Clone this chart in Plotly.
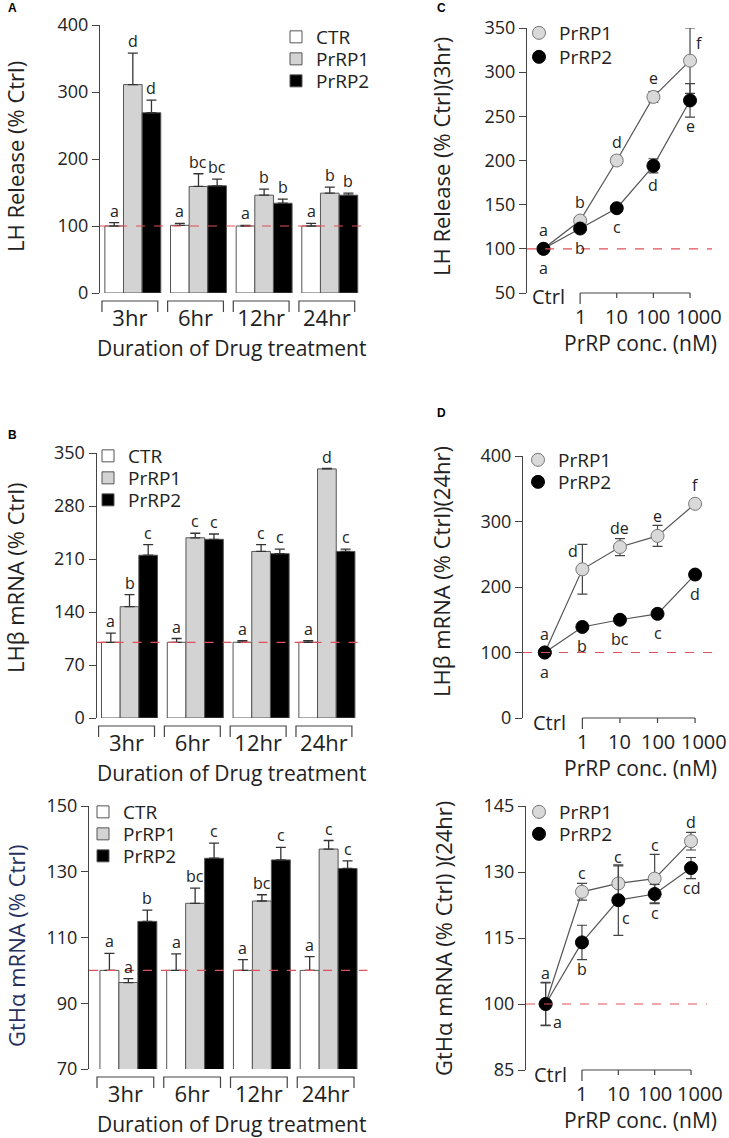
import numpy as np
import plotly.graph_objects as go

W, H = 729, 1138
FONT = "Open Sans"
INK = "#222222"

# ---- data: bar panels (A, B, bottom-left) ----
durations = ["3hr", "6hr", "12hr", "24hr"]
bar_names = ["CTR", "PrRP1", "PrRP2"]

lh_ctr = [100, 101, 100, 100]
lh_ctr_err = [5, 3, 1, 4]
lh_p1 = [311, 159, 146, 149]
lh_p1_err = [47, 19, 9, 9]
lh_p2 = [269, 160, 134, 146]
lh_p2_err = [19, 10, 6, 3]
lh_ctr_sig = ["a", "a", "a", "a"]
lh_p1_sig = ["d", "bc", "b", "b"]
lh_p2_sig = ["d", "bc", "b", "b"]

lhb_ctr = [100, 100, 100, 100]
lhb_ctr_err = [12, 5, 2, 2]
lhb_p1 = [147, 238, 220, 329]
lhb_p1_err = [16, 6, 9, 0.5]
lhb_p2 = [215, 236, 217, 220]
lhb_p2_err = [14, 7, 6, 3]
lhb_ctr_sig = ["a", "a", "a", "a"]
lhb_p1_sig = ["b", "c", "c", "d"]
lhb_p2_sig = ["c", "c", "c", "c"]

gth_ctr = [100, 100, 100, 100]
gth_ctr_err = [5.2, 5, 3.3, 4.2]
gth_p1 = [96.3, 120.4, 121.1, 136.9]
gth_p1_err = [1.2, 4.6, 1.9, 2.6]
gth_p2 = [114.9, 134.1, 133.6, 131.0]
gth_p2_err = [3.4, 4.6, 3.8, 2.3]
gth_ctr_sig = ["a", "a", "a", "a"]
gth_p1_sig = ["a", "bc", "bc", "c"]
gth_p2_sig = ["b", "c", "c", "c"]

# ---- data: dose-response panels (C, D, bottom-right) ----
conc_labels = ["Ctrl", "1", "10", "100", "1000"]
conc_nm = [0, 1, 10, 100, 1000]

c_p1 = [100, 132, 200, 272, 313]
c_p1_err = [2, 4, 5, 6, 37]
c_p2 = [100, 123, 146, 194, 268]
c_p2_err = [2, 3, 4, 8, 19]
c_p1_sig = ["a", "b", "d", "e", "f"]
c_p2_sig = ["a", "b", "c", "d", "e"]

d_p1 = [100, 227, 261, 278, 327]
d_p1_err = [3, 38, 13, 16, 2]
d_p2 = [100, 139, 150, 159, 219]
d_p2_err = [2, 3, 3, 3, 3]
d_p1_sig = ["a", "d", "de", "e", "f"]
d_p2_sig = ["a", "b", "bc", "c", "d"]

f_p1 = [100, 125.5, 127.4, 128.5, 137]
f_p1_err = [4.9, 1.9, 4, 5.5, 2]
f_p2 = [100, 114, 123.6, 125, 130.9]
f_p2_err = [4.8, 3.9, 8, 2.2, 2.4]
f_p1_sig = ["a", "c", "c", "c", "d"]
f_p2_sig = ["a", "b", "c", "c", "cd"]

# ---- layout of the six panels (pixel boxes) ----
panels = {
    "A": dict(n="", x=(100, 362.6), y=(25, 293), xr=(-0.5, 3.5), yr=(0, 400), dt=100),
    "C": dict(n="2", x=(527, 712), y=(28, 293), xr=(-1.45, 3.6), yr=(50, 350), dt=50),
    "B": dict(n="3", x=(96.6, 359.8), y=(453, 718), xr=(-0.5, 3.5), yr=(0, 350), dt=70),
    "D": dict(n="4", x=(523, 712), y=(456, 718), xr=(-1.58, 3.45), yr=(0, 400), dt=100),
    "E": dict(n="5", x=(89, 362), y=(806, 1069), xr=(-0.59, 3.5), yr=(70, 150), dt=20),
    "F": dict(n="6", x=(526, 707), y=(806, 1070), xr=(-1.54, 3.44), yr=(85, 145), dt=15),
}


def pyp(p):
    return 1 - p / H


def pxp(p):
    return p / W


fig = go.Figure()
shapes = []
annos = []
legends = {}
leg_count = [0]

BW = 0.284  # bar width in category units
BR0, BR1 = -0.47, 0.38  # bracket ends relative to group centre
bar_fill = ["white", "#d3d3d3", "black"]


def text(x, y, s, size, color=INK, xref="paper", yref="paper", **kw):
    a = dict(x=x, y=y, xref=xref, yref=yref, text=s, showarrow=False,
             xanchor="center", yanchor="middle", font=dict(size=size, family=FONT, color=color))
    a.update(kw)
    annos.append(a)


def new_legend(text_x, row_y):
    # one legend per row so the rows sit where the reference has them
    leg_count[0] += 1
    key = "legend" if leg_count[0] == 1 else f"legend{leg_count[0]}"
    legends[key] = dict(x=pxp(text_x - 40), y=pyp(row_y), xanchor="left", yanchor="middle",
                        bgcolor="rgba(0,0,0,0)", font=dict(size=19, family=FONT, color=INK))
    return key


def ax_x(p, tv, tt, size, standoff):
    n = p["n"]
    fig.update_layout({
        "xaxis" + n: dict(domain=[pxp(p["x"][0]), pxp(p["x"][1])], anchor="y" + n, range=list(p["xr"]),
                          showline=False, zeroline=False, showgrid=False, ticks="", automargin=False,
                          tickvals=tv, ticktext=tt, ticklabelstandoff=standoff, tickangle=0,
                          showticklabels=tv is not None,
                          tickfont=dict(size=size, family=FONT, color=INK)),
        "yaxis" + n: dict(domain=[pyp(p["y"][1]), pyp(p["y"][0])], anchor="x" + n, range=list(p["yr"]),
                          showline=True, linecolor="#444444", linewidth=1.2, zeroline=False, showgrid=False,
                          ticks="outside", ticklen=7, tickcolor="#444444", tickwidth=1.2, automargin=False,
                          tick0=p["yr"][0], dtick=p["dt"],
                          tickfont=dict(size=18, family=FONT, color=INK)),
    })


def bar_panel(key, series, leg_x, leg_rows, ytitle, ytitle_pos, ytitle_color=INK):
    p = panels[key]
    n = p["n"]
    xs0 = np.arange(len(durations))
    for j, (vals, errs, sigs) in enumerate(series):
        xs = xs0 + (j - 1) * BW
        fig.add_trace(go.Bar(
            x=xs, y=vals, width=BW, name=bar_names[j],
            marker=dict(color=bar_fill[j], line=dict(color="#555555", width=1)),
            error_y=dict(type="data", array=errs, arrayminus=[0] * len(errs), symmetric=False,
                         color="#333333", thickness=1.3, width=5),
            xaxis="x" + n, yaxis="y" + n, legend=new_legend(leg_x, leg_rows[j]), showlegend=True,
        ))
        for xv, v, e, s in zip(xs, vals, errs, sigs):
            text(xv, v + e, s, 16, xref="x" + n, yref="y" + n, yanchor="bottom", yshift=-1)
    # brackets under each group
    yb = p["y"][1]
    for i in xs0:
        x0, x1 = i + BR0, i + BR1
        shapes.append(dict(type="path", xref="x" + n, yref="paper",
                           path=f"M{x0},{pyp(yb + 19)} L{x0},{pyp(yb + 8)} L{x1},{pyp(yb + 8)} L{x1},{pyp(yb + 19)}",
                           line=dict(color="#444444", width=1.2)))
    shapes.append(dict(type="line", xref=f"x{n} domain", yref="y" + n, x0=0, x1=1.02, y0=100, y1=100,
                       line=dict(color="#e0505a", width=1.2, dash="dash")))
    text(pxp(ytitle_pos[0]), pyp(ytitle_pos[1]), ytitle, 22, color=ytitle_color, textangle=-90)
    text(pxp(231), pyp(yb + 55), "Duration of Drug treatment", 21)
    ax_x(p, [i + (BR0 + BR1) / 2 for i in xs0], durations, 22, 10)


def conc_pos(c):
    return np.log10(c) if c > 0 else -1.0


def line_panel(key, p1, p2, leg_x, leg_rows, ytitle, ytitle_pos, side):
    p = panels[key]
    n = p["n"]
    xs = [conc_pos(c) for c in conc_nm]
    ppu = (p["y"][1] - p["y"][0]) / (p["yr"][1] - p["yr"][0])
    for vals, _, _ in (p1, p2):
        fig.add_trace(go.Scatter(x=xs, y=vals, mode="lines", line=dict(color="#555555", width=1.2),
                                 xaxis="x" + n, yaxis="y" + n, showlegend=False, hoverinfo="skip"))
    styles = [dict(color="#d9d9d9", line=dict(color="#777777", width=1)),
              dict(color="black", line=dict(color="black", width=1))]
    for k, (vals, errs, sigs) in enumerate((p1, p2)):
        fig.add_trace(go.Scatter(
            x=xs, y=vals, mode="markers", name=bar_names[k + 1],
            marker=dict(size=13, **styles[k]),
            error_y=dict(type="data", array=errs, color="#444444", thickness=1.2, width=5),
            xaxis="x" + n, yaxis="y" + n, legend=new_legend(leg_x, leg_rows[k]),
        ))
        sgn = 1 if k == 0 else -1
        for i, (xv, v, e, s) in enumerate(zip(xs, vals, errs, sigs)):
            dx = side.get((k, i), 0)
            shift = 18 if dx else max(19, e * ppu + 9)
            text(xv, v, s, 16, xref="x" + n, yref="y" + n, xshift=dx, yshift=sgn * shift)
    # ruler under the concentrations, labels below it (the last one nudged right as in the source)
    yb = p["y"][1]
    shapes.append(dict(type="line", xref="x" + n, yref="paper", x0=xs[1], x1=xs[-1],
                       y0=pyp(yb), y1=pyp(yb), line=dict(color="#444444", width=1.2)))
    for i, xv in enumerate(xs[1:]):
        shapes.append(dict(type="line", xref="x" + n, yref="paper", x0=xv, x1=xv,
                           y0=pyp(yb), y1=pyp(yb + (11 if i == 0 else 5)),
                           line=dict(color="#444444", width=1.2)))
        text(xv, pyp(yb + 23), conc_labels[i + 1], 20, xref="x" + n,
             xshift=9 if i == len(xs) - 2 else 0)
    shapes.append(dict(type="line", xref=f"x{n} domain", yref="y" + n, x0=0, x1=1, y0=100, y1=100,
                       line=dict(color="#e0505a", width=1.2, dash="dash")))
    text(xs[0], pyp(yb + 4), conc_labels[0], 20, xref="x" + n, xshift=5)
    text(pxp(ytitle_pos[0]), pyp(ytitle_pos[1]), ytitle, 22, textangle=-90)
    text(pxp(640), pyp(yb + 50), "PrRP conc. (nM)", 21)
    ax_x(p, None, None, 20, 8)


bar_panel("A", [(lh_ctr, lh_ctr_err, lh_ctr_sig), (lh_p1, lh_p1_err, lh_p1_sig), (lh_p2, lh_p2_err, lh_p2_sig)],
          316, (37, 59, 81), "LH Release (% Ctrl)", (15, 157))
line_panel("C", (c_p1, c_p1_err, c_p1_sig), (c_p2, c_p2_err, c_p2_sig), 559, (33, 57),
           "LH Release (% Ctrl)(3hr)", (441, 157), {(0, 4): 9})
bar_panel("B", [(lhb_ctr, lhb_ctr_err, lhb_ctr_sig), (lhb_p1, lhb_p1_err, lhb_p1_sig),
                (lhb_p2, lhb_p2_err, lhb_p2_sig)],
          128, (456, 478, 500), "LHβ mRNA (% Ctrl)", (15, 578))
line_panel("D", (d_p1, d_p1_err, d_p1_sig), (d_p2, d_p2_err, d_p2_sig), 558, (460, 482),
           "LHβ mRNA (% Ctrl)(24hr)", (441, 572), {(0, 1): -9})
bar_panel("E", [(gth_ctr, gth_ctr_err, gth_ctr_sig), (gth_p1, gth_p1_err, gth_p1_sig),
                (gth_p2, gth_p2_err, gth_p2_sig)],
          123, (812, 834, 856), "GtHα mRNA (% Ctrl)", (16, 946), ytitle_color="#26305e")
line_panel("F", (f_p1, f_p1_err, f_p1_sig), (f_p2, f_p2_err, f_p2_sig), 559, (812, 834),
           "GtHα mRNA (% Ctrl) )(24hr)", (443, 939), {(1, 0): 12, (1, 2): 8})

for lab, (lx, ly) in {"A": (12, 8), "C": (441, 8), "B": (12, 435), "D": (441, 413)}.items():
    annos.append(dict(x=pxp(lx), y=pyp(ly), xref="paper", yref="paper", text=f"<b>{lab}</b>",
                      showarrow=False, xanchor="center", yanchor="middle",
                      font=dict(size=12, family="Liberation Sans", color="black")))

fig.update_layout(
    width=W, height=H, margin=dict(l=0, r=0, t=0, b=0, autoexpand=False),
    paper_bgcolor="white", plot_bgcolor="white",
    barmode="overlay", shapes=shapes, annotations=annos,
    font=dict(family=FONT, color=INK),
    **legends,
)

# the page's default body margin would push the figure 8px down and right
fig.write_html("out.html", config={"displayModeBar": False},
               post_script="document.body.style.margin = '0';")
